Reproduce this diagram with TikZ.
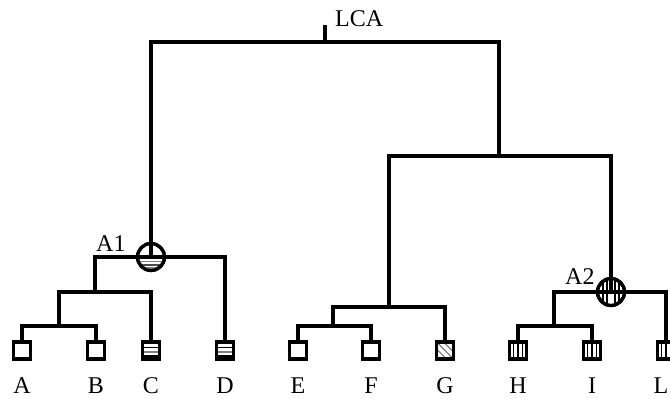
\documentclass[tikz,border=0pt]{standalone}
\usepackage{fontspec}
\setmainfont{Liberation Serif}
\usetikzlibrary{calc}
\begin{document}
\begin{tikzpicture}[x=1pt,y=-1pt,
  br/.style={draw=black, line width=3.2pt},
  leaf/.style={draw=black, line width=3.2pt, minimum size=17pt, inner sep=0pt, fill=white},
  hleaf/.style={leaf, path picture={
     \foreach \dd/\cc in {-3/black,1.5/gray,5.5/black}
       \draw[\cc, line width=1.4pt] ($(path picture bounding box.center)+(-12,\dd)$) -- ++(24,0);}},
  dleaf/.style={leaf, path picture={
     \foreach \ss in {-7,-3.5,0,3.5,7}
       \draw[gray, line width=1.3pt] ($(path picture bounding box.center)+(-14+\ss,-14-\ss)$) -- ++(28,28);}},
  vleaf/.style={leaf, path picture={
     \foreach \dd in {-4.5,0,4.5}
       \draw[black, line width=1.4pt] ($(path picture bounding box.center)+(\dd,-12)$) -- ++(0,24);}},
  hubA/.style={circle, draw=black, line width=3.2pt, minimum size=27pt, inner sep=0pt, path picture={
     \foreach \dd/\cc in {4.5/gray,8/black!70,11/gray}
       \draw[\cc, line width=1.4pt] ($(path picture bounding box.center)+(-16,\dd)$) -- ++(32,0);}},
  hubB/.style={circle, draw=black, line width=3.2pt, minimum size=27pt, inner sep=0pt, path picture={
     \foreach \dd in {-8,-4,4,8}
       \draw[black, line width=1.4pt] ($(path picture bounding box.center)+(\dd,-16)$) -- ++(0,32);}},
  lbl/.style={anchor=base, inner sep=0pt, font=\fontsize{24}{28}\selectfont}
]
\useasboundingbox (0,0) rectangle (670,399);
\clip (0,0) rectangle (670,399);

% internal points
\coordinate (root) at (325,42);
\coordinate (top) at (325,25);
\coordinate (n2) at (499,156);
\coordinate (j1) at (95,292);
\coordinate (j2) at (59,326);
\coordinate (e1) at (389,307);
\coordinate (e2) at (333,326);
\coordinate (h1) at (554,326);

% leaves
\node[leaf]  (a) at (22,350.5) {};
\node[leaf]  (b) at (96,350.5) {};
\node[hleaf] (c) at (151,350.5) {};
\node[hleaf] (d) at (225,350.5) {};
\node[leaf]  (e) at (298,350.5) {};
\node[leaf]  (f) at (371,350.5) {};
\node[dleaf] (g) at (445,350.5) {};
\node[vleaf] (h) at (518,350.5) {};
\node[vleaf] (i) at (592,350.5) {};
\node[vleaf] (l) at (666,350.5) {};

% hubs
\node[hubA] (a1) at (151,257) {};
\node[hubB] (a2) at (611,292) {};

% edges
\draw[br] (root) -- (top);
\draw[br] (a1.center) |- (root) -| (n2);
\draw[br] (e1) |- (n2) -| (a2.center);
\draw[br] (j1) |- (a1.center) -| (d);
\draw[br] (j2) |- (j1) -| (c);
\draw[br] (a) |- (j2) -| (b);
\draw[br] (e2) |- (e1) -| (g);
\draw[br] (e) |- (e2) -| (f);
\draw[br] (h1) |- (a2.center) -| (l);
\draw[br] (h) |- (h1) -| (i);

% redraw hubs and leaves on top
\node[hubA] at (a1) {};
\node[hubB] at (a2) {};
\node[leaf]  at (a) {};
\node[leaf]  at (b) {};
\node[hleaf] at (c) {};
\node[hleaf] at (d) {};
\node[leaf]  at (e) {};
\node[leaf]  at (f) {};
\node[dleaf] at (g) {};
\node[vleaf] at (h) {};
\node[vleaf] at (i) {};
\node[vleaf] at (l) {};

% labels
\node[lbl, anchor=base west] (tlca) at (335,26) {LCA};
\node[lbl, anchor=base west] (ta1) at (96,251.5) {A1};
\node[lbl, anchor=base west] (ta2) at (565,284.5) {A2};
\node[lbl] (ta) at (22,393) {A};
\node[lbl] (tb) at (96,393) {B};
\node[lbl] (tc) at (151,393) {C};
\node[lbl] (td) at (225,393) {D};
\node[lbl] (te) at (298,393) {E};
\node[lbl] (tf) at (371,393) {F};
\node[lbl] (tg) at (445,393) {G};
\node[lbl] (th) at (518,393) {H};
\node[lbl] (ti) at (592,393) {I};
\node[lbl] (tl) at (661,393) {L};
\end{tikzpicture}
\end{document}
